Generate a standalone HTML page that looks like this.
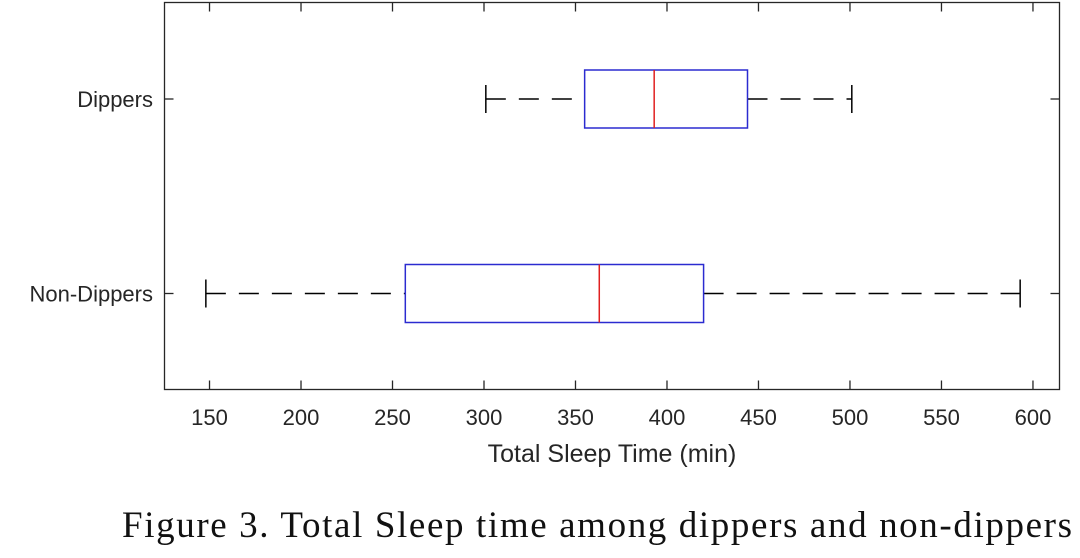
<!DOCTYPE html>
<html><head><meta charset="utf-8"><style>
html,body{margin:0;padding:0;background:#fff;width:1080px;height:558px;overflow:hidden}
svg text{font-family:"Liberation Sans",Arial,sans-serif;fill:#262626}
</style></head><body>
<svg id="chart" width="1080" height="558" viewBox="0 0 1080 558" xmlns="http://www.w3.org/2000/svg">
<rect x="164.5" y="2.5" width="895" height="387" fill="#fff" stroke="#262626" stroke-width="1.3"/>
<g id="ticks"></g><g id="boxes"></g>
<text x="612" y="462" font-size="25" text-anchor="middle">Total Sleep Time (min)</text>
<text x="597" y="537" font-size="37" text-anchor="middle" textLength="950" style="font-family:'Liberation Serif','Times New Roman',serif;fill:#111">Figure 3. Total Sleep time among dippers and non-dippers</text>
</svg>
<script>
const categories = ["Dippers", "Non-Dippers"];
const whiskerLow = [301, 148];
const q1 = [355, 257];
const median = [393, 363];
const q3 = [444, 420];
const whiskerHigh = [501, 593];
const xTicks = [150, 200, 250, 300, 350, 400, 450, 500, 550, 600];

const NS = "http://www.w3.org/2000/svg";
const X0 = 164.5, X1 = 1059.5, Y0 = 2.5, Y1 = 389.5;
const xMin = 125.4, xMax = 614.5;
function x(v){ return X0 + (v - xMin) / (xMax - xMin) * (X1 - X0); }
function y(i){ return 99 + i * 194.5; }
function mk(tag, attrs, parent){ const e = document.createElementNS(NS, tag); for (const k in attrs) e.setAttribute(k, attrs[k]); parent.appendChild(e); return e; }

const tg = document.getElementById("ticks");
xTicks.forEach(t => {
  const px = x(t);
  const a = mk("line", {x1:px, x2:px, y1:Y1, y2:Y1-9, stroke:"#262626", "stroke-width":1.3}, tg);
  
  
  const b = mk("line", {x1:px, x2:px, y1:Y0, y2:Y0+9, stroke:"#262626", "stroke-width":1.3}, tg);
  
  
  const l = mk("text", {x:px, y:425, "font-size":22, "text-anchor":"middle"}, tg);
  l.textContent = t;
  
  
});
categories.forEach((c, i) => {
  const py = y(i);
  const a = mk("line", {x1:X0, x2:X0+9, y1:py, y2:py, stroke:"#262626", "stroke-width":1.3}, tg);
  
  
  const b = mk("line", {x1:X1, x2:X1-9, y1:py, y2:py, stroke:"#262626", "stroke-width":1.3}, tg);
  
  
  const l = mk("text", {x:153, y:py+8, "font-size":22, "text-anchor":"end"}, tg);
  l.textContent = c;
  
  
});

const bg = document.getElementById("boxes");
categories.forEach((c, i) => {
  const py = y(i), h = 29;
  const g = mk("g", {}, bg);
  
  
  const w1 = mk("line", {x1:x(whiskerLow[i]), x2:x(q1[i]), y1:py, y2:py, stroke:"#000", "stroke-width":1.5, "stroke-dasharray":"20,13"}, g);
  
  
  const w2 = mk("line", {x1:x(q3[i]), x2:x(whiskerHigh[i]), y1:py, y2:py, stroke:"#000", "stroke-width":1.5, "stroke-dasharray":"20,13"}, g);
  
  
  const c1 = mk("line", {x1:x(whiskerLow[i]), x2:x(whiskerLow[i]), y1:py-14, y2:py+14, stroke:"#000", "stroke-width":1.5}, g);
  
  
  const c2 = mk("line", {x1:x(whiskerHigh[i]), x2:x(whiskerHigh[i]), y1:py-14, y2:py+14, stroke:"#000", "stroke-width":1.5}, g);
  
  
  const r = mk("rect", {x:x(q1[i]), y:py-h, width:x(q3[i])-x(q1[i]), height:2*h, fill:"#fff", stroke:"#2b2bd0", "stroke-width":1.5}, g);
  
  
  const m = mk("line", {x1:x(median[i]), x2:x(median[i]), y1:py-h, y2:py+h, stroke:"#e02020", "stroke-width":1.5}, g);
  
  
});
</script>
</body></html>
